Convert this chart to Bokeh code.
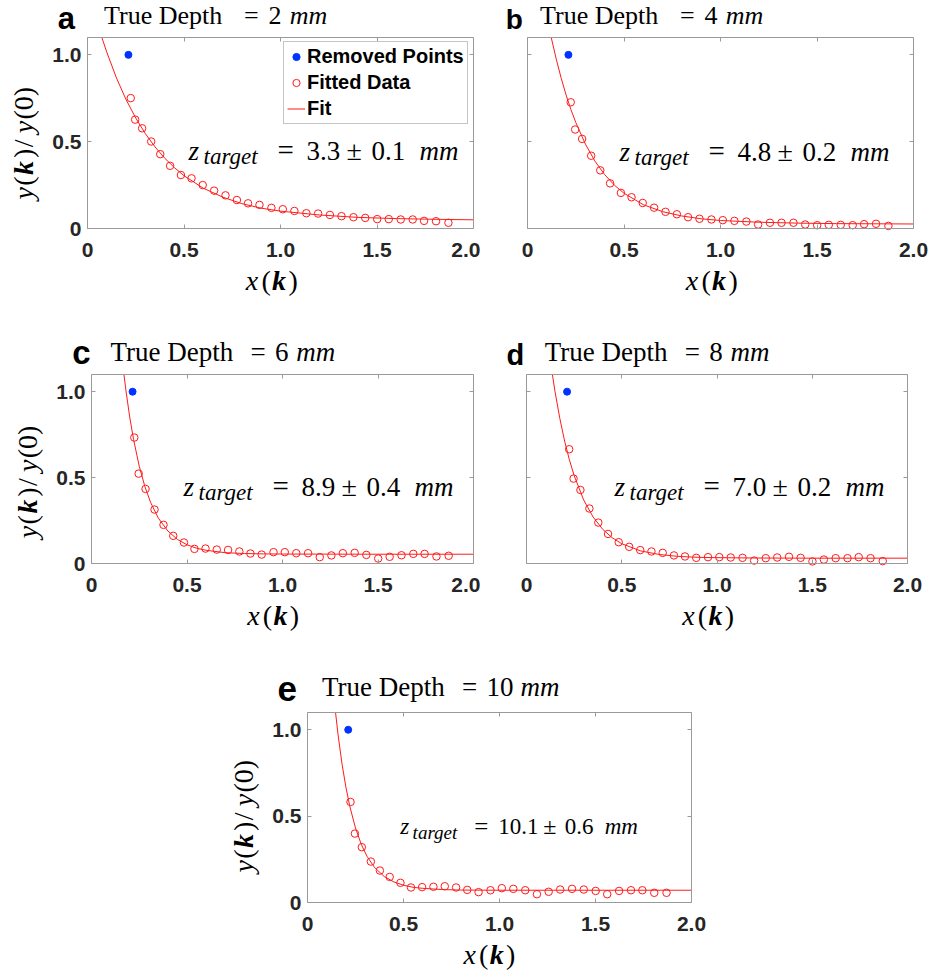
from bokeh.plotting import figure
from bokeh.models import (Label, Legend, LegendItem, LinearAxis, FixedTicker, Range1d,
                          Spacer, CustomLabelingPolicy)
from bokeh.layouts import column, row
from bokeh.embed import file_html
from bokeh.resources import INLINE
import math

# ---------------- data ----------------
PANELS = ["a", "b", "c", "d", "e"]
TRUE_DEPTH = ["2", "4", "6", "8", "10"]
Z_TARGET = ["3.3", "4.8", "8.9", "7.0", "10.1"]
Z_ERR = ["0.1", "0.2", "0.4", "0.2", "0.6"]

X_TICKS = [0, 0.5, 1.0, 1.5, 2.0]
X_TICK_LABELS = ["0", "0.5", "1.0", "1.5", "2.0"]
Y_TICKS = [0, 0.5, 1.0]
Y_TICK_LABELS = ["0", "0.5", "1.0"]

X_DATA = [0.224, 0.247, 0.283, 0.330, 0.377, 0.428, 0.484, 0.539, 0.597, 0.656,
          0.715, 0.774, 0.832, 0.891, 0.953, 1.012, 1.072, 1.134, 1.195, 1.256,
          1.316, 1.378, 1.439, 1.501, 1.561, 1.623, 1.685, 1.744, 1.806, 1.870]

Y_A = [0.751, 0.627, 0.577, 0.501, 0.428, 0.361, 0.308, 0.289, 0.250, 0.218,
       0.191, 0.164, 0.145, 0.136, 0.119, 0.111, 0.101, 0.088, 0.086, 0.078,
       0.071, 0.065, 0.061, 0.054, 0.054, 0.052, 0.052, 0.044, 0.042, 0.033]
Y_B = [0.727, 0.570, 0.516, 0.419, 0.335, 0.260, 0.205, 0.180, 0.147, 0.120,
       0.096, 0.082, 0.065, 0.056, 0.052, 0.048, 0.044, 0.040, 0.023, 0.033,
       0.033, 0.033, 0.023, 0.019, 0.021, 0.021, 0.019, 0.025, 0.027, 0.015]
Y_C = [0.733, 0.523, 0.434, 0.314, 0.225, 0.161, 0.122, 0.085, 0.087, 0.081,
       0.079, 0.070, 0.058, 0.052, 0.066, 0.066, 0.060, 0.060, 0.037, 0.047,
       0.060, 0.062, 0.050, 0.029, 0.039, 0.048, 0.056, 0.056, 0.041, 0.045]
Y_D = [0.665, 0.494, 0.428, 0.320, 0.238, 0.172, 0.124, 0.097, 0.078, 0.070,
       0.062, 0.047, 0.041, 0.033, 0.037, 0.037, 0.035, 0.033, 0.017, 0.031,
       0.035, 0.039, 0.033, 0.012, 0.023, 0.031, 0.031, 0.037, 0.031, 0.014]
Y_E = [0.582, 0.399, 0.320, 0.237, 0.185, 0.148, 0.114, 0.087, 0.089, 0.091,
       0.094, 0.087, 0.073, 0.060, 0.071, 0.083, 0.079, 0.071, 0.048, 0.062,
       0.075, 0.079, 0.075, 0.067, 0.048, 0.067, 0.071, 0.071, 0.056, 0.056]

REMOVED_X = [0.212, 0.212, 0.215, 0.213, 0.212]
REMOVED_Y = [1.0, 1.0, 1.0, 1.0, 1.0]

FIT_X_A = [0.075, 0.10, 0.15, 0.20, 0.25, 0.30, 0.35, 0.40, 0.45, 0.50,
           0.60, 0.70, 0.80, 0.90, 1.00, 1.20, 1.40, 1.60, 1.80, 2.00]
FIT_Y_A = [1.098, 1.015, 0.867, 0.742, 0.636, 0.546, 0.470, 0.405, 0.351, 0.304,
           0.232, 0.181, 0.143, 0.117, 0.100, 0.078, 0.064, 0.057, 0.053, 0.050]
FIT_X_B = [0.123, 0.15, 0.175, 0.20, 0.225, 0.25, 0.30, 0.35, 0.40, 0.45, 0.50,
           0.60, 0.70, 0.80, 0.90, 1.00, 1.20, 1.40, 1.60, 1.80, 2.00]
FIT_Y_B = [1.100, 0.971, 0.864, 0.769, 0.685, 0.611, 0.486, 0.387, 0.310, 0.250, 0.203,
           0.137, 0.097, 0.072, 0.056, 0.046, 0.036, 0.031, 0.028, 0.027, 0.026]
FIT_X_C = [0.170, 0.18, 0.20, 0.22, 0.25, 0.28, 0.31, 0.35, 0.40, 0.45,
           0.50, 0.55, 0.60, 0.70, 0.80, 0.90, 1.00, 1.50, 2.00]
FIT_Y_C = [1.099, 1.009, 0.853, 0.723, 0.566, 0.446, 0.354, 0.264, 0.189, 0.140,
           0.109, 0.089, 0.077, 0.063, 0.058, 0.056, 0.055, 0.054, 0.054]
FIT_X_D = [0.136, 0.15, 0.175, 0.20, 0.225, 0.25, 0.30, 0.35, 0.40, 0.45,
           0.50, 0.60, 0.70, 0.80, 0.90, 1.00, 1.20, 1.50, 2.00]
FIT_Y_D = [1.099, 0.999, 0.844, 0.713, 0.604, 0.512, 0.370, 0.270, 0.199, 0.150,
           0.115, 0.073, 0.052, 0.041, 0.036, 0.034, 0.032, 0.031, 0.031]
FIT_X_E = [0.146, 0.16, 0.18, 0.20, 0.22, 0.25, 0.28, 0.31, 0.35, 0.40,
           0.45, 0.50, 0.55, 0.60, 0.70, 0.80, 1.00, 2.00]
FIT_Y_E = [1.100, 0.964, 0.801, 0.668, 0.558, 0.431, 0.337, 0.267, 0.202, 0.150,
           0.119, 0.100, 0.088, 0.082, 0.075, 0.072, 0.071, 0.071]

Y_SERIES = [Y_A, Y_B, Y_C, Y_D, Y_E]
FIT_X = [FIT_X_A, FIT_X_B, FIT_X_C, FIT_X_D, FIT_X_E]
FIT_Y = [FIT_Y_A, FIT_Y_B, FIT_Y_C, FIT_Y_D, FIT_Y_E]

# ---------------- style / layout ----------------
SERIF = "Liberation Serif"
SANS = "Liberation Sans"
RED = "#ff1a1a"
BLUE = "#0033ff"
FRAME = "#9a9a9a"
TICKTXT = "#262626"
X_MAX, Y_MAX = 2.0, 1.1
MID = 0.34  # distance from baseline to the centre of the em box, in em

# figure width, height, and the plot box margins: left, right, top, bottom
GEOM = [
    (480, 330, 87, 7, 37, 102),
    (453, 330, 47, 20, 37, 102),
    (480, 330, 91, 7, 44, 97),
    (453, 330, 46, 26, 44, 97),
    (500, 318, 87, 29, 52, 76),
]
# panel letter: dx, dy (baseline), font size
LETTER = [(-29.7, -8.3, 31), (-21.7, -8.3, 28), (-19.3, -11, 33), (-20, -10, 29), (-30, -11.3, 35)]
# title: dx, dy (baseline), font size
TITLE_POS = [(16.6, -13, 26), (12.6, -13, 26), (19, -13.6, 27), (18.3, -13.6, 27), (14.4, -16.3, 27)]
ZPOS = [(101, 122.3), (92, 123.3), (92, 121.4), (88, 121.4), (92.7, 122)]
XLAB_DX = [158.3, 158.3, 155.7, 155.7, 156]
YLAB_START = [162, None, 163.7, None, 160]

NO_LABELS = "for (let i = 0; i < indices.size; i++) { indices.unset(i) }\nreturn indices"


def make_axis(loc, bounds, ticks, overrides, labels):
    kw = dict(fixed_location=loc, bounds=bounds, ticker=FixedTicker(ticks=ticks),
              axis_line_color=FRAME, axis_line_width=1,
              major_tick_line_color=FRAME, major_tick_in=4, major_tick_out=0,
              minor_tick_line_color=None)
    if labels:
        kw.update(major_label_overrides=overrides, major_label_text_font=SANS,
                  major_label_text_font_style="bold", major_label_text_font_size="21px",
                  major_label_text_color=TICKTXT)
    else:
        kw.update(major_label_policy=CustomLabelingPolicy(code=NO_LABELS))
    return LinearAxis(**kw)


def build(i):
    w, h, bl, br, bt, bb = GEOM[i]
    fw = w - bl - br
    fh = h - bt - bb
    sx = fw / X_MAX
    sy = fh / Y_MAX
    p = figure(width=w, height=h, output_backend="svg", toolbar_location=None,
               x_range=Range1d(-bl / sx, X_MAX + br / sx),
               y_range=Range1d(-bb / sy, Y_MAX + bt / sy),
               x_axis_type=None, y_axis_type=None, min_border=0,
               background_fill_color="white", border_fill_color="white",
               outline_line_color=None)
    p.title.visible = False
    p.xgrid.visible = False
    p.ygrid.visible = False

    def txt(dx, dy, text, size, style="normal", font=SERIF, angle=0.0):
        # (dx, dy): baseline start, in px from the plot box's top-left corner
        if angle == 0.0:
            cy = dy - MID * size
            cx = dx
        else:
            cx = dx - MID * size
            cy = dy
        p.add_layout(Label(x=cx / sx, y=Y_MAX - cy / sy, text=text, text_font=font,
                           text_font_size=f"{size}px", text_font_style=style,
                           text_color="#000000", text_align="left",
                           text_baseline="middle", angle=angle))

    xo = {t: l for t, l in zip(X_TICKS, X_TICK_LABELS)}
    yo = {t: l for t, l in zip(Y_TICKS, Y_TICK_LABELS)}
    xb = make_axis(0, (0, X_MAX), X_TICKS, xo, True)
    xb.major_label_standoff = 14
    p.add_layout(xb, "below")
    yl = make_axis(0, (0, Y_MAX), Y_TICKS, yo, i not in (1, 3))
    yl.major_label_standoff = 6
    p.add_layout(yl, "left")
    p.add_layout(make_axis(Y_MAX, (0, X_MAX), X_TICKS, xo, False), "above")
    p.add_layout(make_axis(X_MAX, (0, Y_MAX), Y_TICKS, yo, False), "right")

    # data
    r_rem = p.scatter([REMOVED_X[i]], [REMOVED_Y[i]], marker="circle", size=7,
                      fill_color=BLUE, line_color=BLUE)
    r_dat = p.scatter(X_DATA, Y_SERIES[i], marker="circle", size=7.5, fill_color=None,
                      line_color=RED, line_width=1)
    r_fit = p.line(FIT_X[i], FIT_Y[i], line_color=RED, line_width=1)

    if i == 0:
        leg = Legend(items=[LegendItem(label="Removed Points", renderers=[r_rem]),
                            LegendItem(label="Fitted Data", renderers=[r_dat]),
                            LegendItem(label="Fit", renderers=[r_fit])],
                     location=(283, h - 124), margin=0, padding=3, spacing=3,
                     label_height=21, glyph_height=21, glyph_width=18,
                     label_standoff=2, label_text_font=SANS,
                     label_text_font_style="bold", label_text_font_size="20px",
                     label_text_color="#000000", border_line_color="#8c8c8c",
                     border_line_width=1, background_fill_color="white",
                     background_fill_alpha=1.0)
        p.add_layout(leg)

    # panel letter
    ldx, ldy, lsz = LETTER[i]
    txt(ldx, ldy, PANELS[i], lsz, "bold", SANS)

    # title: True Depth = N mm
    tdx, tdy, tsz = TITLE_POS[i]
    txt(tdx, tdy, "True Depth", tsz)
    txt(tdx + 140.0, tdy, "=", tsz)
    txt(tdx + 164.5, tdy, TRUE_DEPTH[i], tsz)
    txt(tdx + 164.5 + 12.8 * len(TRUE_DEPTH[i]) + 8.4, tdy, "mm", tsz, "italic")

    # z_target annotation
    zdx, zdy = ZPOS[i]
    if i < 4:
        off = [0, 15, 89, 118, 158, 183, 231]
        fm, fs, drop = 27, 23, 4.5
    else:
        off = [0, 12.4, 74, 98, 143, 164.5, 204.5]
        fm, fs, drop = 23, 19, 4
    txt(zdx + off[0], zdy, "z", fm, "italic")
    txt(zdx + off[1], zdy + drop, "target", fs, "italic")
    txt(zdx + off[2], zdy, "=", fm + 2)
    txt(zdx + off[3], zdy, Z_TARGET[i], fm)
    txt(zdx + off[4], zdy, "±", fm + 1)
    txt(zdx + off[5], zdy, Z_ERR[i], fm)
    txt(zdx + off[6], zdy, "mm", fm, "italic")

    # x axis label x(k)
    xdx = XLAB_DX[i]
    xdy = fh + 62
    txt(xdx, xdy, "x", 28, "italic")
    txt(xdx + 15.6, xdy, "(", 28)
    txt(xdx + 26.2, xdy, "k", 28, "bold italic")
    txt(xdx + 42.6, xdy, ")", 28)

    # y axis label y(k)/y(0), rotated
    if YLAB_START[i] is not None:
        s = YLAB_START[i]
        bx = -54.5
        pieces = [(0, "y", "italic"), (13.7, "(", "normal"), (24.6, "k", "bold italic"),
                  (41.4, ")", "normal"), (52.3, "/", "normal"), (66.3, "y", "italic"),
                  (80.0, "(0)", "normal")]
        for o, t, st in pieces:
            txt(bx, s - o, t, 28, st, SERIF, math.pi / 2)
    return p


figs = [build(i) for i in range(5)]
layout = column(row(figs[0], figs[1]), row(figs[2], figs[3]),
                row(Spacer(width=220, height=318), figs[4]))

with open("out.html", "w") as f:
    f.write(file_html(layout, INLINE))
